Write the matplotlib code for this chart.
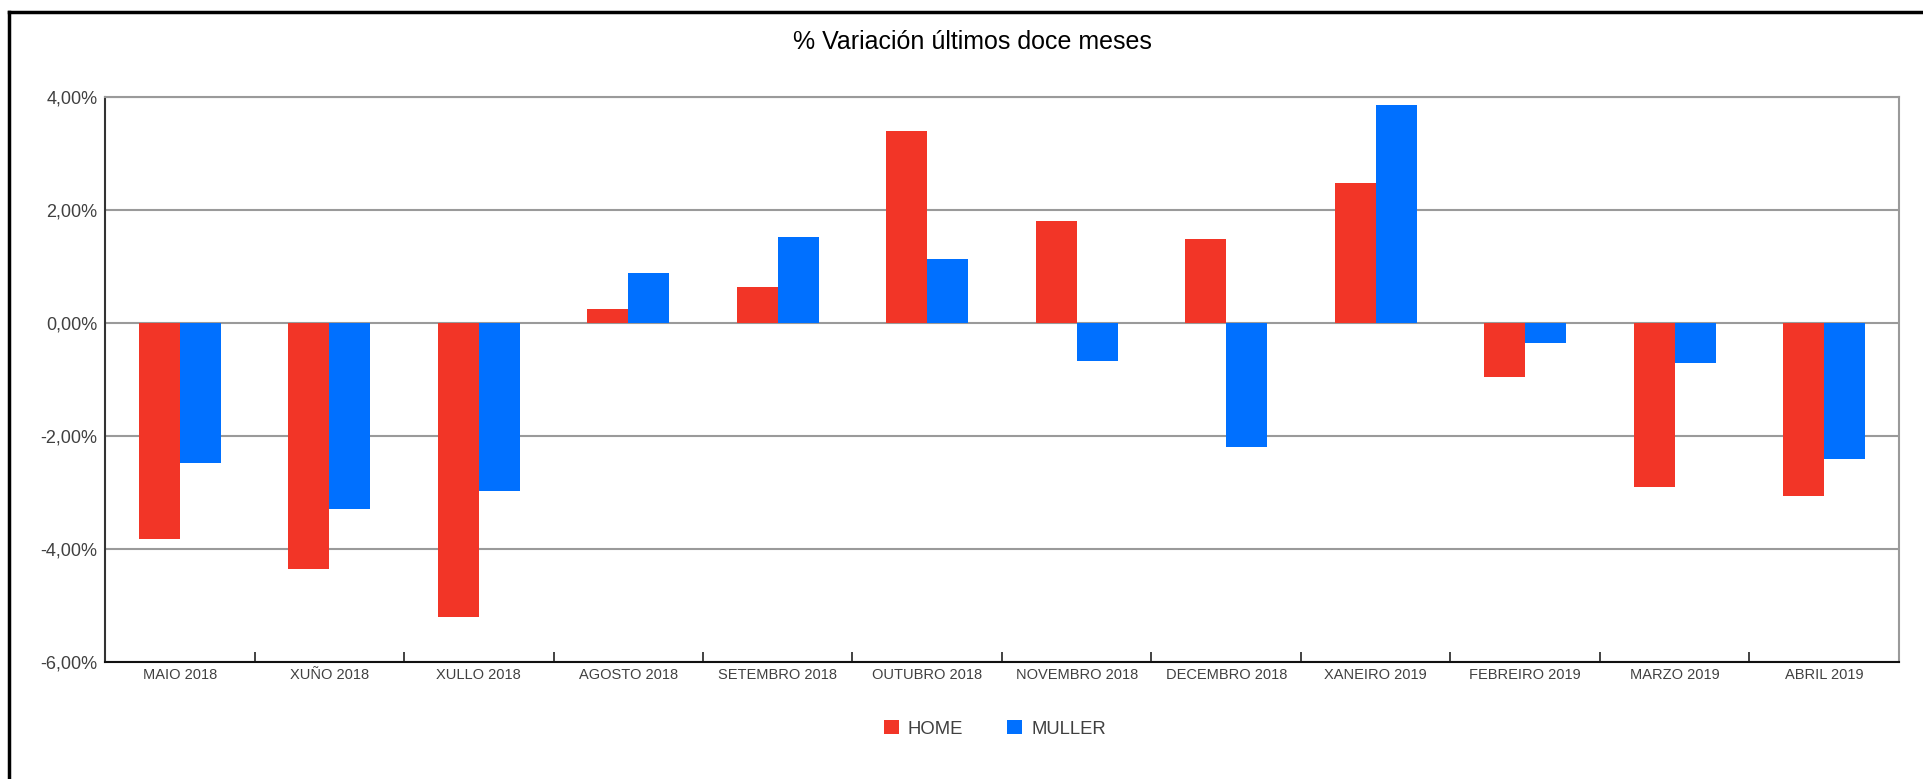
import matplotlib
matplotlib.use("Agg")
import matplotlib.pyplot as plt
import numpy as np
from matplotlib.lines import Line2D
from matplotlib.ticker import FuncFormatter, FixedLocator

plt.rcParams['font.family'] = ['Liberation Sans', 'DejaVu Sans']

months = ['MAIO 2018', 'XUÑO 2018', 'XULLO 2018', 'AGOSTO 2018', 'SETEMBRO 2018',
          'OUTUBRO 2018', 'NOVEMBRO 2018', 'DECEMBRO 2018', 'XANEIRO 2019',
          'FEBREIRO 2019', 'MARZO 2019', 'ABRIL 2019']
home = [-3.82, -4.35, -5.20, 0.25, 0.63, 3.40, 1.80, 1.48, 2.48, -0.96, -2.90, -3.07]
muller = [-2.47, -3.29, -2.97, 0.88, 1.52, 1.13, -0.67, -2.20, 3.86, -0.35, -0.70, -2.40]
series_names = ['HOME', 'MULLER']
colors = ['#F23527', '#0070FF']
y_ticks = [-6, -4, -2, 0, 2, 4]

W, H = 1924, 779
fig = plt.figure(figsize=(W / 100, H / 100), dpi=100)
# plot area in pixels: left 105, right 1899, top 97, bottom 662
ax = fig.add_axes([105 / W, (H - 662) / H, (1899 - 105) / W, (662 - 97) / H])

x = np.arange(len(months))
bw = 0.275
ax.bar(x - bw / 2, home, bw, color=colors[0], label=series_names[0], zorder=3)
ax.bar(x + bw / 2, muller, bw, color=colors[1], label=series_names[1], zorder=3)

ax.set_xlim(-0.5, len(months) - 0.5)
ax.set_ylim(-6, 4)
ax.set_yticks(y_ticks)
ax.yaxis.set_major_formatter(FuncFormatter(lambda v, p: f"{v:.2f}".replace('.', ',') + '%'))
ax.grid(axis='y', color='#9a9a9a', linewidth=1.5, zorder=0)
ax.tick_params(axis='y', length=0, pad=5.5, labelsize=13, labelcolor='#404040')

ax.set_xticks(x)
ax.set_xticklabels(months)
ax.tick_params(axis='x', which='major', length=0, pad=4, labelsize=10.5, labelcolor='#404040')
ax.xaxis.set_minor_locator(FixedLocator(np.arange(0.5, len(months) - 1, 1.0)))
ax.tick_params(axis='x', which='minor', direction='in', length=7, width=1.2, color='#222222')

for s in ['top', 'right']:
    ax.spines[s].set_color('#9a9a9a')
    ax.spines[s].set_linewidth(1.5)
ax.spines['left'].set_color('#333333')
ax.spines['left'].set_linewidth(1.5)
ax.spines['bottom'].set_color('#111111')
ax.spines['bottom'].set_linewidth(1.5)

fig.text(972 / W, 1 - 42 / H, '% Variación últimos doce meses', ha='center', va='center',
         fontsize=18, color='black')

leg = ax.legend(loc='center', bbox_to_anchor=(995 / W, 1 - 729 / H), bbox_transform=fig.transFigure,
                ncol=2, frameon=False, fontsize=13.3, handlelength=0.8, handleheight=0.8,
                handletextpad=0.5, columnspacing=2.4)
for t in leg.get_texts():
    t.set_color('#404040')

# outer frame, only top and left edges visible
fig.add_artist(Line2D([9 / W, 1.0], [1 - 12 / H, 1 - 12 / H], transform=fig.transFigure,
                      color='black', linewidth=2.5))
fig.add_artist(Line2D([9 / W, 9 / W], [1 - 12 / H, 0.0], transform=fig.transFigure,
                      color='black', linewidth=2.5))

fig.savefig('out.png', dpi=100)
